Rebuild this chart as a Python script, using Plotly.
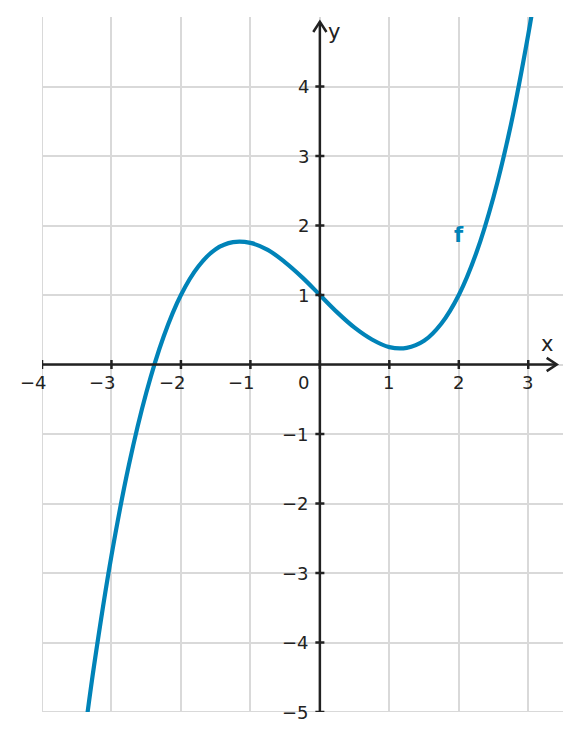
import plotly.graph_objects as go

# Curve points
x_vals = [-3.4, -3.25, -3.0, -2.75, -2.5, -2.25, -2.0, -1.75, -1.5, -1.25, -1.0, -0.75,
          -0.5, -0.25, 0.0, 0.25, 0.5, 0.75, 1.0, 1.25, 1.5, 1.75, 2.0, 2.25, 2.5, 2.75, 3.0, 3.1]
y_vals = [-5.43, -4.33, -2.75, -1.45, -0.41, 0.40, 1.00, 1.41, 1.66, 1.76, 1.75, 1.65,
          1.47, 1.25, 1.00, 0.75, 0.53, 0.36, 0.25, 0.24, 0.34, 0.59, 1.00, 1.60, 2.41, 3.45, 4.75, 5.35]

x_ticks = [-4, -3, -2, -1, 1, 2, 3]
x_tick_labels = ["−4", "−3", "−2", "−1", "1", "2", "3"]
y_ticks = [-5, -4, -3, -2, -1, 1, 2, 3, 4]
y_tick_labels = ["−5", "−4", "−3", "−2", "−1", "1", "2", "3", "4"]

BLUE = "#0083b8"
AX = "#222222"
GRID = "#d9d9d9"
FONT = "DejaVu Sans"

fig = go.Figure()
fig.add_trace(go.Scatter(x=x_vals, y=y_vals, mode="lines", line=dict(color=BLUE, width=4.2, shape="spline"),
                         hoverinfo="skip", showlegend=False))

shapes = []
# edge gridlines (plotly hides those at range edges)
shapes.append(dict(type="line", xref="x", yref="y", x0=-4, y0=-5, x1=-4, y1=5, layer="below",
                   line=dict(color=GRID, width=2)))
shapes.append(dict(type="line", xref="x", yref="y", x0=-4, y0=-5, x1=3.5, y1=-5, layer="below",
                   line=dict(color=GRID, width=2)))
# axes
shapes.append(dict(type="line", xref="x", yref="y", x0=-4, y0=0, x1=3.41, y1=0, line=dict(color=AX, width=2.5)))
shapes.append(dict(type="line", xref="x", yref="y", x0=0, y0=-5, x1=0, y1=4.93, line=dict(color=AX, width=2.5)))
# arrowheads
shapes.append(dict(type="path", xref="x", yref="y", path="M 3.265 0.095 L 3.41 0 L 3.265 -0.095",
                   line=dict(color=AX, width=2.5)))
shapes.append(dict(type="path", xref="x", yref="y", path="M -0.095 4.785 L 0 4.93 L 0.095 4.785",
                   line=dict(color=AX, width=2.5)))
# tick marks
for t in x_ticks + [0]:
    shapes.append(dict(type="line", xref="x", yref="y", x0=t, y0=-0.065, x1=t, y1=0.065,
                       line=dict(color=AX, width=2.5)))
for t in y_ticks:
    shapes.append(dict(type="line", xref="x", yref="y", x0=-0.065, y0=t, x1=0.065, y1=t,
                       line=dict(color=AX, width=2.5)))

annotations = []
for t, lab in zip(x_ticks, x_tick_labels):
    annotations.append(dict(x=t, y=0, xref="x", yref="y", text=lab, showarrow=False,
                            xanchor="right", yanchor="middle", xshift=7, yshift=-18,
                            font=dict(family=FONT, size=18, color=AX)))
annotations.append(dict(x=0, y=0, xref="x", yref="y", text="0", showarrow=False,
                        xanchor="right", yanchor="middle", xshift=-9, yshift=-18,
                        font=dict(family=FONT, size=18, color=AX)))
for t, lab in zip(y_ticks, y_tick_labels):
    annotations.append(dict(x=0, y=t, xref="x", yref="y", text=lab, showarrow=False,
                            xanchor="right", yanchor="middle", xshift=-9,
                            font=dict(family=FONT, size=18, color=AX)))
annotations.append(dict(x=3.27, y=0.29, xref="x", yref="y", text="x", showarrow=False,
                        xanchor="center", yanchor="middle", font=dict(family=FONT, size=21, color=AX)))
annotations.append(dict(x=0.2, y=4.78, xref="x", yref="y", text="y", showarrow=False,
                        xanchor="center", yanchor="middle", font=dict(family=FONT, size=21, color=AX)))
annotations.append(dict(x=2.01, y=1.86, xref="x", yref="y", text="<b>f</b>", showarrow=False,
                        xanchor="center", yanchor="middle", font=dict(family=FONT, size=21, color=BLUE)))

fig.update_layout(
    width=581, height=741,
    margin=dict(l=42, r=18, t=17, b=29),
    paper_bgcolor="white", plot_bgcolor="white",
    xaxis=dict(range=[-4, 3.5], tickvals=[-4, -3, -2, -1, 0, 1, 2, 3], showticklabels=False,
               showgrid=True, gridcolor=GRID, gridwidth=2, zeroline=False, showline=False, fixedrange=True),
    yaxis=dict(range=[-5, 5], tickvals=[-5, -4, -3, -2, -1, 0, 1, 2, 3, 4], showticklabels=False,
               showgrid=True, gridcolor=GRID, gridwidth=2, zeroline=False, showline=False, fixedrange=True),
    shapes=shapes, annotations=annotations,
)

fig.write_html("out.html")
